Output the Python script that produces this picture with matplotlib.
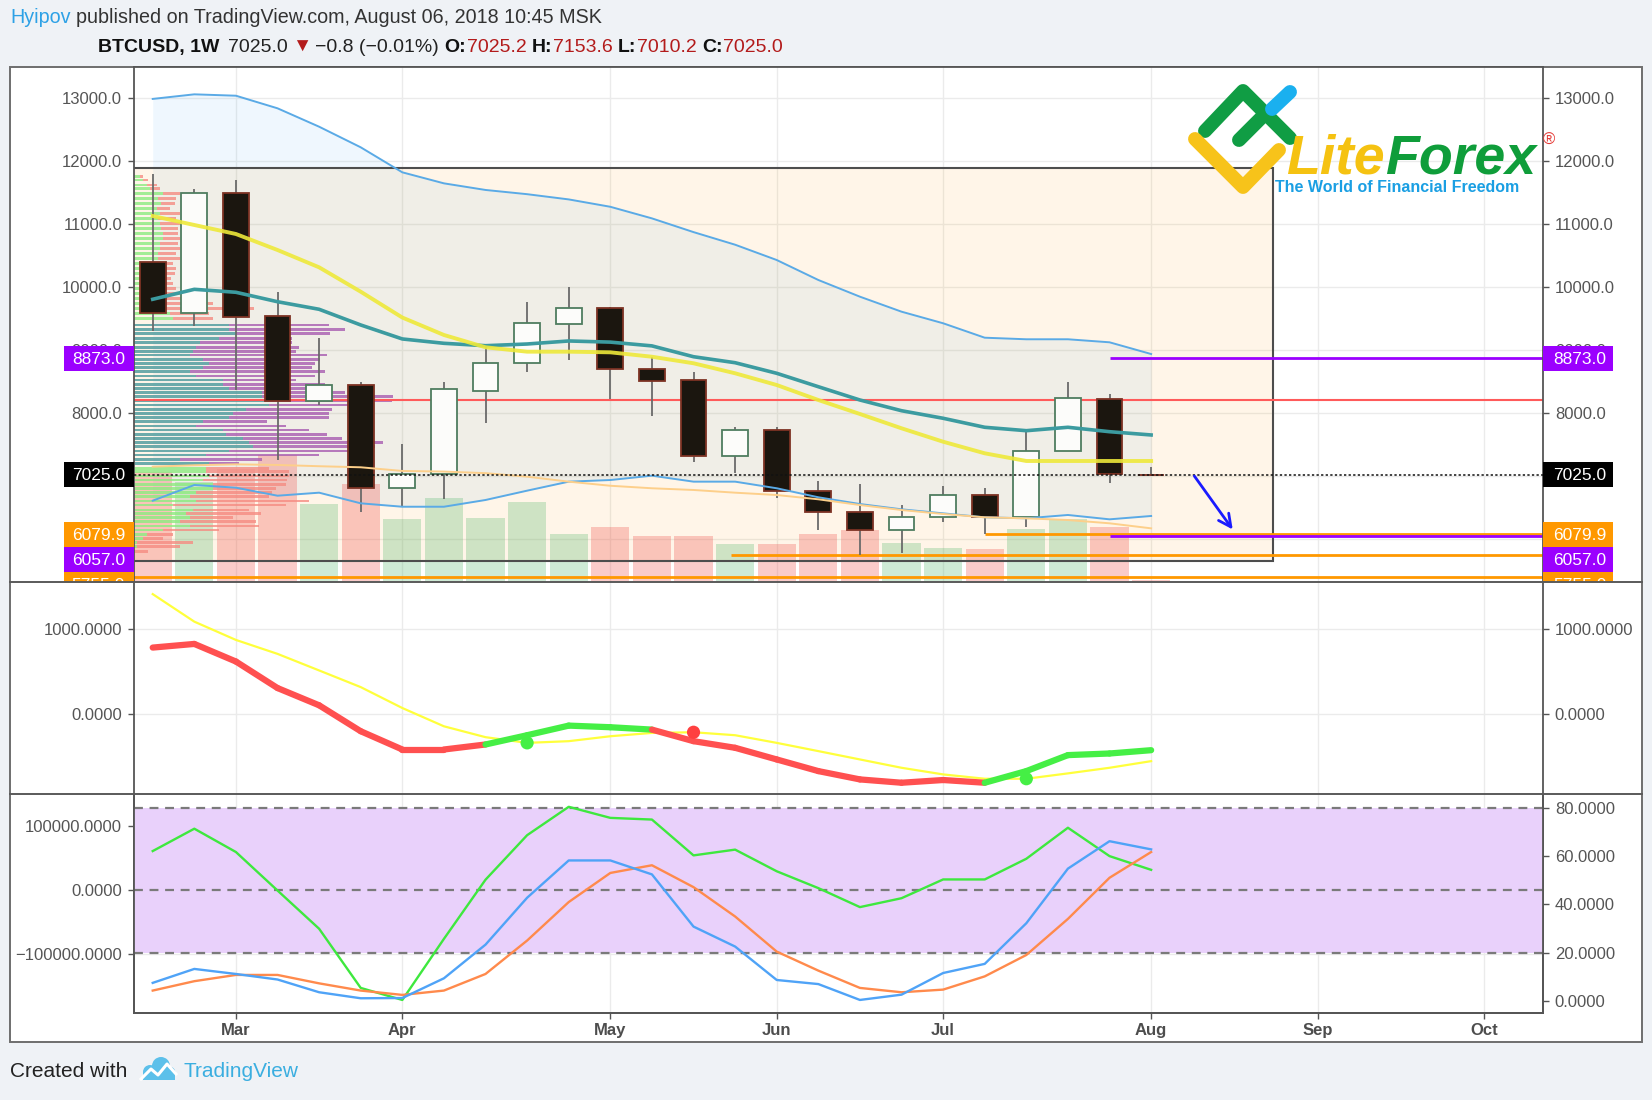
import numpy as np
import pandas as pd
import matplotlib
matplotlib.use('Agg')
import matplotlib.pyplot as plt
from matplotlib.patches import Rectangle, Circle
from matplotlib.lines import Line2D
from matplotlib.transforms import (blended_transform_factory, Bbox,
                                   TransformedBbox, IdentityTransform)

plt.rcParams['font.family'] = ['Liberation Sans', 'DejaVu Sans']

W, H = 1652, 1100

#==== DATA : weekly BTCUSD ====#
first_week = '2018-02-19'
n_slots = 34

opens  = [10400, 9590, 11500, 9540, 8200, 8450, 6820, 7030, 8350, 8800, 9420, 9670, 8710,
          8530, 7330, 7740, 6770, 6440, 6150, 6350, 6710, 6350, 7400, 8220, 7025.2]
highs  = [11800, 11560, 11710, 9930, 9200, 8490, 7520, 8490, 9050, 9770, 10000, 9690, 8900,
          8660, 7790, 7790, 6930, 6880, 6540, 6850, 6820, 7700, 8500, 8300, 7153.6]
lows   = [9300, 9380, 8370, 7260, 8130, 6440, 6520, 6640, 7840, 8660, 8840, 8220, 7950,
          7230, 7050, 6650, 6140, 5755, 5790, 6280, 6080, 6200, 7400, 6900, 7010.2]
closes = [9590, 11500, 9530, 8200, 8450, 6820, 7030, 8380, 8800, 9430, 9670, 8700, 8520,
          7330, 7740, 6770, 6440, 6150, 6350, 6710, 6350, 7400, 8240, 7030, 7025.0]
volumes = [110, 100, 113, 127, 78, 98, 63, 84, 64, 80, 48, 55, 46, 46, 38, 38, 48, 52,
           39, 34, 33, 53, 63, 55, 2]

bb_upper = [12990, 13063, 13041, 12841, 12549, 12222, 11825, 11650, 11545, 11478, 11395,
            11278, 11094, 10876, 10676, 10433, 10116, 9851, 9613, 9429, 9200, 9175, 9175,
            9127, 8941]
bb_basis = [9810, 9968, 9921, 9771, 9651, 9402, 9180, 9111, 9073, 9100, 9148, 9130, 9070,
            8898, 8803, 8635, 8422, 8211, 8041, 7921, 7778, 7724, 7778, 7708, 7656]
bb_lower = [6613, 6862, 6819, 6692, 6740, 6571, 6517, 6517, 6624, 6772, 6915, 6941, 7010,
            6915, 6915, 6810, 6667, 6560, 6476, 6412, 6349, 6333, 6386, 6317, 6370]
ma_fast = [11132, 10989, 10846, 10592, 10317, 9930, 9520, 9243, 9048, 8978, 8978, 8968,
           8898, 8794, 8635, 8449, 8211, 7989, 7762, 7549, 7365, 7243, 7243, 7243, 7243]
ma_slow = [7153, 7175, 7190, 7180, 7160, 7143, 7085, 7075, 7050, 6994, 6915, 6850, 6810,
           6783, 6740, 6703, 6635, 6544, 6465, 6402, 6349, 6333, 6306, 6254, 6174]

# visible range volume profile rows
prof_price = [11756, 11703, 11624, 11571, 11492, 11412, 11333, 11254, 11174, 11095, 11016,
              10936, 10857, 10778, 10698, 10619, 10540, 10460, 10381, 10301, 10222, 10143,
              10063, 9984, 9905, 9825, 9746, 9667, 9587, 9508,
              9402, 9333, 9270, 9191, 9122, 9048, 8979, 8926, 8857, 8794, 8730, 8662, 8593,
              8529, 8461, 8397, 8328, 8265, 8196, 8133, 8064, 8000, 7932, 7868, 7799, 7736,
              7667, 7603, 7535, 7471, 7403, 7339, 7270, 7207,
              7127, 7074, 7006, 6942, 6874, 6810, 6741, 6678, 6609, 6546, 6466, 6413, 6345,
              6281, 6212, 6149, 6080, 6016, 5948, 5884, 5805]
prof_up = [18, 28, 38, 48, 88, 73, 83, 68, 78, 73, 78, 83, 88, 88, 78, 78, 73, 73, 68, 63,
           68, 63, 73, 78, 83, 88, 98, 93, 108, 118,
           288, 288, 308, 258, 198, 188, 178, 168, 208, 228, 208, 168, 188, 268, 268, 288,
           388, 388, 408, 408, 338, 298, 288, 208, 188, 268, 278, 328, 348, 358, 288, 218,
           138, 228,
           218, 218, 228, 208, 238, 238, 188, 168, 188, 118, 178, 158, 168, 138, 168, 88,
           38, 28, 8, 8, 2]
prof_dn = [10, 15, 30, 30, 50, 55, 40, 40, 60, 55, 60, 50, 45, 50, 55, 60, 55, 65, 50, 65,
           55, 50, 45, 50, 65, 130, 140, 270, 120, 120,
           300, 350, 285, 220, 280, 310, 310, 415, 355, 320, 330, 410, 360, 220, 310, 310,
           250, 395, 370, 280, 260, 290, 300, 195, 270, 260, 305, 300, 405, 370, 430, 340,
           250, 90,
           190, 250, 240, 255, 220, 190, 230, 240, 340, 340, 170, 225, 130, 230, 210, 170,
           80, 60, 170, 130, 40]
va_low, va_high = 7170, 9450
poc_price = 8210

# drawings
box_low, box_high, box_end = 5650, 11898, 26.94
ray_prices = [8873.0, 6079.9, 6057.0, 5755.0, 5400.0]
ray_starts = [23, 20, 23, 13.9, -1]
ray_colors = ['#9b00ff', '#ff9800', '#9b00ff', '#ff9800', '#ff9800']
label_prices = [8873.0, 7025.0, 6079.9, 6057.0, 5755.0]
label_colors = ['#9b00ff', '#000000', '#ff9800', '#9b00ff', '#ff9800']
arrow_tail = (25.0, 7040)
arrow_tip = (26.0, 6120)

# middle pane
macd = [781, 824, 617, 305, 102, -203, -418, -418, -359, -250, -137, -156, -184, -320,
        -398, -535, -672, -770, -809, -777, -809, -672, -484, -465, -426]
signal = [1410, 1086, 871, 707, 512, 316, 70, -145, -273, -340, -320, -262, -223, -215,
          -250, -340, -437, -535, -633, -711, -762, -762, -699, -633, -555]

# bottom pane
osc_green = [62.2, 71.5, 61.8, 45.8, 29.9, 5.3, 0.3, 25.7, 50.3, 68.8, 80.6, 76.0, 75.3,
             60.4, 62.8, 53.8, 46.8, 38.9, 42.6, 50.4, 50.4, 59.0, 71.9, 60.1, 54.4]
osc_blue = [7.4, 13.2, 11.1, 8.8, 3.5, 1.0, 1.1, 9.3, 23.3, 42.8, 58.3, 58.3, 52.5, 30.8,
            22.5, 8.6, 6.9, 0.3, 2.5, 11.5, 15.3, 32.2, 54.9, 66.3, 62.9]
osc_orange = [4.2, 8.1, 10.7, 10.7, 7.2, 4.2, 2.4, 4.2, 11.1, 25.0, 41.0, 53.1, 56.3, 47.2,
              35.0, 20.4, 12.5, 5.3, 3.5, 4.6, 10.1, 19.0, 34.0, 51.1, 61.8]

#==== LAYOUT (pixels) ====#
AX_L, AX_R = 134, 1543
TOP, SEP1, SEP2, BOT = 67.3, 581.7, 794.3, 1012.7
XMIN, XMAX = -0.45, 33.42
PRICE_LIM = (5327, 13492)
MACD_LIM = (-945, 1556)
OSC_L_LIM = (-192300, 150000)
OSC_R_LIM = (-5.0, 85.8)
GRID = '#ebebeb'
AXC = '#555555'

fig = plt.figure(figsize=(W / 100, H / 100), dpi=100, facecolor='#eff2f6')


def fpos(x, y):
    return x / W, 1 - y / H


def panel(top, bottom):
    ax = fig.add_axes([AX_L / W, 1 - bottom / H, (AX_R - AX_L) / W, (bottom - top) / H])
    ax.set_xlim(XMIN, XMAX)
    ax.set_axisbelow(True)
    for s in ax.spines.values():
        s.set_color(AXC)
        s.set_linewidth(1.3)
    ax.spines['bottom'].set_visible(False)
    ax.tick_params(axis='y', length=4.5, width=1, color=AXC, labelcolor='#555555',
                   labelsize=12, pad=4)
    ax.tick_params(axis='x', length=0, labelbottom=False)
    ax.grid(True, color=GRID, lw=1)
    return ax


weeks = pd.date_range(first_week, periods=n_slots, freq='7D')
month_pos = [i for i in range(1, n_slots) if weeks[i].month != weeks[i - 1].month]
month_lab = [weeks[i].strftime('%b') for i in month_pos]

idx = np.arange(len(closes))
o, h, l, c = map(np.array, (opens, highs, lows, closes))
up = c >= o

# outer frame
fig.add_artist(Rectangle(fpos(10, 1042), (1642 - 10) / W, (1042 - TOP) / H,
                         transform=fig.transFigure, fc='white', ec='#6e6e6e', lw=1.4,
                         zorder=-1))

#==== PRICE PANE ====#
ax = panel(TOP, SEP1)
ax.set_ylim(*PRICE_LIM)
ax.set_xticks(month_pos)
ax.set_yticks(np.arange(6000, 13001, 1000))
ax.yaxis.set_major_formatter('{x:.1f}')
ax.tick_params(axis='y', left=True, right=True, labelleft=True, labelright=True)

ax.fill_between(idx, bb_lower, bb_upper, color=(0.13, 0.59, 0.95, 0.07), lw=0, zorder=0.6)
ax.add_patch(Rectangle((XMIN - 1, box_low), box_end - XMIN + 1, box_high - box_low,
                       fc=(1, 0.6, 0, 0.09), ec='none', zorder=0.7))
ax.add_patch(Rectangle((XMIN - 1, box_low), box_end - XMIN + 1, box_high - box_low,
                       fill=False, ec='#4d4d4d', lw=1.5, zorder=2.2))

vol_tr = blended_transform_factory(ax.transData, ax.transAxes)
vtop = max(volumes) / 0.247
vol_cols = [(0.3, 0.7, 0.4, 0.27) if u else (0.94, 0.33, 0.31, 0.3) for u in up]
ax.bar(idx, np.array(volumes) / vtop, width=0.92, bottom=0, color=vol_cols,
       transform=vol_tr, zorder=0.9, lw=0)

# volume profile
pu, pd_ = np.array(prof_up), np.array(prof_dn)
pscale = 0.184 * (XMAX - XMIN) / (pu + pd_).max()
in_va = [(va_low <= p <= va_high) for p in prof_price]
ax.barh(prof_price, pu * pscale, height=44, left=XMIN, lw=0, zorder=1.2,
        color=[(0.33, 0.62, 0.63, 0.85) if v else (0.55, 0.92, 0.5, 0.8) for v in in_va])
ax.barh(prof_price, pd_ * pscale, height=44, left=XMIN + pu * pscale, lw=0, zorder=1.2,
        color=[(0.66, 0.36, 0.69, 0.8) if v else (0.96, 0.55, 0.51, 0.8) for v in in_va])

ax.axhline(poc_price, color='#ff5a5a', lw=1.5, zorder=2.4)
for p, s, col in zip(ray_prices, ray_starts, ray_colors):
    ax.hlines(p, s, XMAX + 1, color=col, lw=2, zorder=2.4)

# candles
ax.vlines(idx, l, h, color='#6a6a6a', lw=1.3, zorder=3)
ax.bar(idx, np.abs(c - o), bottom=np.minimum(o, c), width=0.62,
       color=['#fcfcfa' if u else '#1b160f' for u in up],
       edgecolor=['#4f7d5f' if u else '#7d3224' for u in up], lw=1.3, zorder=3.2)

ax.plot(idx, bb_upper, color='#5aaae6', lw=1.4, zorder=4)
ax.plot(idx, bb_lower, color='#5aaae6', lw=1.4, zorder=4)
ax.plot(idx, ma_slow, color='#fdcf8a', lw=1.4, zorder=4)
ax.plot(idx, bb_basis, color='#3c9ba0', lw=2.6, zorder=4)
ax.plot(idx, ma_fast, color='#eee93a', lw=2.8, alpha=0.9, zorder=4)
ax.axhline(closes[-1], color='#111111', lw=1.1, ls=(0, (1.5, 1.5)), zorder=4.5)
ax.annotate('', xy=arrow_tip, xytext=arrow_tail, zorder=5,
            arrowprops=dict(arrowstyle='->,head_length=0.9,head_width=0.45',
                            color='#1a1aff', lw=2))

#==== MACD PANE ====#
axm = panel(SEP1, SEP2)
axm.spines['top'].set_visible(False)
axm.set_ylim(*MACD_LIM)
axm.set_xticks(month_pos)
axm.set_yticks([0, 1000])
axm.yaxis.set_major_formatter('{x:.4f}')
axm.tick_params(axis='y', left=True, right=True, labelleft=True, labelright=True)

macd_a, sig_a = np.array(macd), np.array(signal)
bull = macd_a > sig_a
axm.plot(idx, sig_a, color='#ffff3c', lw=1.6, zorder=3)
for i in range(1, len(idx)):
    axm.plot(idx[i - 1:i + 1], macd_a[i - 1:i + 1], color='#45ef45' if bull[i] else '#ff5050',
             lw=4.5, solid_capstyle='round', zorder=4)
cross = [i for i in range(1, len(idx)) if bull[i] != bull[i - 1]]
axm.scatter(idx[cross], sig_a[cross], s=90, lw=0, zorder=5,
            c=['#45ef45' if bull[i] else '#ff4040' for i in cross])

#==== OSCILLATOR PANE ====#
axo = panel(SEP2, BOT)
axo.spines['top'].set_visible(False)
axo.spines['bottom'].set_visible(True)
axo.set_ylim(*OSC_L_LIM)
axo.set_yticks([-100000, 0, 100000])
axo.yaxis.set_major_formatter('{x:.4f}')
axo.set_xticks(month_pos, month_lab)
axo.tick_params(axis='x', length=4.5, width=1, color=AXC, labelcolor='#4d4d4d',
                labelsize=12, pad=3, labelbottom=True)
for t in axo.get_xticklabels():
    t.set_fontweight('bold')

axr = axo.twinx()
axr.set_ylim(*OSC_R_LIM)
axr.set_yticks([0, 20, 40, 60, 80])
axr.yaxis.set_major_formatter('{x:.4f}')
axr.tick_params(axis='y', length=4.5, width=1, color=AXC, labelcolor='#555555',
                labelsize=12, pad=4)
for s in axr.spines.values():
    s.set_color(AXC)
    s.set_linewidth(1.3)
axr.spines['top'].set_visible(False)
axr.axhspan(20, 80, color='#e9d1fb', lw=0, zorder=0.5)
mid_lvl = OSC_R_LIM[0] + (0 - OSC_L_LIM[0]) / (OSC_L_LIM[1] - OSC_L_LIM[0]) * \
    (OSC_R_LIM[1] - OSC_R_LIM[0])
for lvl in (80, mid_lvl, 20):
    axr.axhline(lvl, color='#7a7a7a', lw=1.6, ls=(0, (4, 3)), zorder=1)
axr.plot(idx, osc_green, color='#3ee83e', lw=1.7, zorder=3)
axr.plot(idx, osc_orange, color='#ff8a4c', lw=1.7, zorder=3)
axr.plot(idx, osc_blue, color='#4fa3f7', lw=1.7, zorder=3)

#==== PRICE LABELS ON BOTH SCALES ====#
def price_y(p):
    lo, hi = PRICE_LIM
    return TOP + (hi - p) / (hi - lo) * (SEP1 - TOP)


BOX_H = 25
clip = TransformedBbox(Bbox.from_extents(0, 1 - SEP1 / H, 1, 1), fig.transFigure)
prev = -1e9
for p, col in sorted(zip(label_prices, label_colors), reverse=True):
    yc = max(price_y(p), prev + BOX_H / 2)
    prev = yc + BOX_H / 2
    for x0, tx, ha in ((64, 125, 'right'), (1543, 1553, 'left')):
        r = Rectangle(fpos(x0, yc + BOX_H / 2), 70 / W, BOX_H / H, transform=fig.transFigure,
                      fc=col, ec='none', zorder=1)
        r.set_clip_box(clip)
        fig.add_artist(r)
        t = fig.text(tx / W, 1 - (yc + 1) / H, f'{p:.1f}', color='white', fontsize=12.5,
                     ha=ha, va='center', zorder=2)
        t.set_clip_box(clip)

# pane separators
for y in (SEP1, SEP2):
    fig.add_artist(Line2D([10 / W, 1642 / W], [1 - y / H] * 2, transform=fig.transFigure,
                          color='#5a5a5a', lw=1.4, zorder=5))

#==== HEADER / FOOTER ====#
renderer = fig.canvas.get_renderer()


def text_runs(x, y, runs, size):
    for s, col, weight, gap in runs:
        t = fig.text(x / W, 1 - y / H, s, color=col, fontsize=size, fontweight=weight,
                     ha='left', va='baseline')
        x += t.get_window_extent(renderer).width + gap


RED = '#b31b1b'
text_runs(10, 23, [('Hyipov', '#2da1e6', 'normal', 5),
                   ('published on TradingView.com, August 06, 2018 10:45 MSK', '#333333',
                    'normal', 0)], 14.2)
text_runs(98, 52, [('BTCUSD, 1W', '#111111', 'bold', 9),
                   ('7025.0', '#222222', 'normal', 4), ('▼', RED, 'normal', 4),
                   ('−0.8 (−0.01%)', '#222222', 'normal', 5),
                   ('O:', '#111111', 'bold', 1), ('7025.2', RED, 'normal', 5),
                   ('H:', '#111111', 'bold', 1), ('7153.6', RED, 'normal', 5),
                   ('L:', '#111111', 'bold', 1), ('7010.2', RED, 'normal', 5),
                   ('C:', '#111111', 'bold', 1), ('7025.0', RED, 'normal', 0)], 14)

fig.text(10 / W, 1 - 1077 / H, 'Created with', color='#222222', fontsize=15,
         ha='left', va='baseline')
fig.text(184 / W, 1 - 1077 / H, 'TradingView', color='#3aaee0', fontsize=15,
         ha='left', va='baseline')
ident = IdentityTransform()
for cx, cy, rad in ((150, 1072, 7), (161, 1066, 9), (169, 1073, 6.5)):
    fig.add_artist(Circle((cx, H - cy), rad, transform=ident, fc='#5cc0ea', ec='none'))
fig.add_artist(Rectangle((143, H - 1080), 32, 8, transform=ident, fc='#5cc0ea', ec='none'))
fig.add_artist(Line2D([141, 151, 158, 167, 176], [H - 1079, H - 1069, H - 1075, H - 1064,
                                                  H - 1074],
                      transform=ident, color='white', lw=2.2))

# LiteForex watermark
def stroke(pts, col):
    fig.add_artist(Line2D([p[0] for p in pts], [H - p[1] for p in pts], transform=ident,
                          color=col, lw=10, solid_capstyle='round',
                          solid_joinstyle='round', zorder=6))


stroke([(1205, 131), (1243, 91), (1290, 138)], '#109d44')
stroke([(1239, 140), (1266, 113)], '#109d44')
stroke([(1272, 109), (1290, 92)], '#1ab0ef')
stroke([(1195, 139), (1243, 187), (1279, 150)], '#f7c31a')
t = fig.text(1286 / W, 1 - 174 / H, 'Lite', color='#f5c211', fontsize=40,
             fontweight='bold', style='italic', ha='left', va='baseline', zorder=6)
wl = t.get_window_extent(renderer).width
fig.text((1286 + wl) / W, 1 - 174 / H, 'Forex', color='#0f9d3a', fontsize=40,
         fontweight='bold', style='italic', ha='left', va='baseline', zorder=6)
fig.text(1543 / W, 1 - 140 / H, '®', color='#e53935', fontsize=12, ha='left',
         va='center', zorder=6)
fig.text(1275 / W, 1 - 188 / H, 'The World of Financial Freedom', color='#1a9fe3',
         fontsize=11.5, fontweight='bold', ha='left', va='center', zorder=6)

fig.savefig('out.png', dpi=100, facecolor=fig.get_facecolor())
